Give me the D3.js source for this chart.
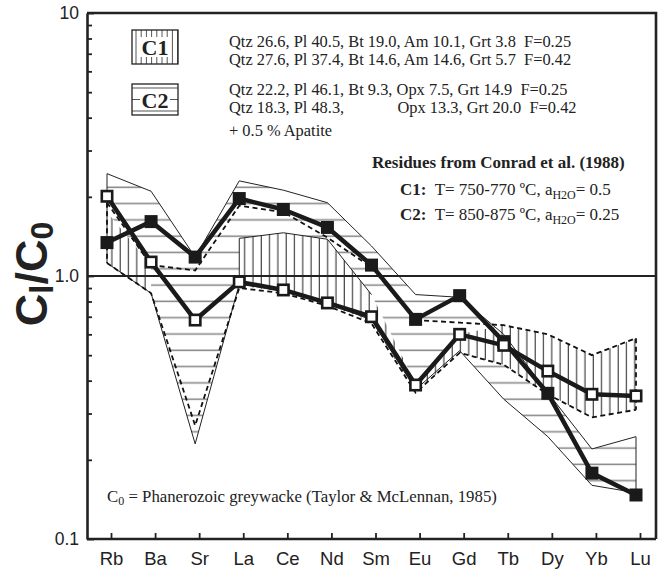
<!DOCTYPE html>
<html lang="en">
<head>
<meta charset="UTF-8">
<title>Cl/C0 residues</title>
<script src="https://d3js.org/d3.v7.min.js"></script>
<style>
  body { margin: 0; background: #fff; }
  .serif { font-family: "Liberation Serif", "Times New Roman", serif; fill: #222; }
  .axis text { font-family: "Liberation Sans", Arial, sans-serif; fill: #222; }
</style>
</head>
<body>
<script>
// elements on the x axis
const elements = ["Rb", "Ba", "Sr", "La", "Ce", "Nd", "Sm", "Eu", "Gd", "Tb", "Dy", "Yb", "Lu"];

// bold lines with markers
const meltFilled = [1.34, 1.61, 1.18, 1.97, 1.79, 1.53, 1.10, 0.684, 0.842, 0.563, 0.358, 0.178, 0.147];
const meltOpen = [2.01, 1.13, 0.68, 0.95, 0.885, 0.79, 0.70, 0.385, 0.60, 0.545, 0.435, 0.355, 0.35];

// C2 field (horizontal hatch)
const c2Upper = [2.45, 2.1, 1.18, 2.3, 2.12, 1.9, 1.3, 0.85, 0.83, 0.6, 0.36, 0.22, 0.245];
const c2Lower = [1.12, 0.86, 0.23, 0.93, 0.88, 0.79, 0.68, 0.37, 0.52, 0.34, 0.245, 0.16, 0.15];

// C1 field (vertical hatch), no field at Sr
const c1Upper = [1.75, 1.1, null, 1.39, 1.46, 1.38, 0.85, 0.39, 0.6, 0.65, 0.6, 0.5, 0.58];
const c1Lower = [1.12, 0.86, null, 0.92, 0.87, 0.78, 0.67, 0.36, 0.51, 0.46, 0.355, 0.29, 0.31];

// dashed curves
const dashUpper = [1.9, 1.1, 1.05, 1.85, 1.75, 1.4, 1.08, 0.68, 0.665, 0.65, 0.6, 0.5, 0.58];
const dashLower = [1.12, 0.86, 0.27, 0.9, 0.86, 0.77, 0.66, 0.36, 0.51, 0.46, 0.355, 0.29, 0.31];

const yMajor = [0.1, 1, 10];

const W = 661, H = 574;
const plot = { left: 87, right: 656, top: 13, bottom: 539 };

const svg = d3.select("body").append("svg")
    .attr("width", W)
    .attr("height", H);

const x = d3.scalePoint().domain(elements).range([107, 636]);
const y = d3.scaleLog().domain([0.1, 10]).range([plot.bottom, plot.top]);

const defs = svg.append("defs");
defs.append("pattern")
    .attr("id", "hatchH")
    .attr("patternUnits", "userSpaceOnUse")
    .attr("width", 10).attr("height", 16.3)
    .append("line")
    .attr("x1", 0).attr("x2", 10).attr("y1", 8).attr("y2", 8)
    .attr("stroke", "#8a8a8a").attr("stroke-width", 1.6);
defs.append("pattern")
    .attr("id", "hatchV")
    .attr("patternUnits", "userSpaceOnUse")
    .attr("width", 8.3).attr("height", 10)
    .append("line")
    .attr("x1", 4).attr("x2", 4).attr("y1", 0).attr("y2", 10)
    .attr("stroke", "#444").attr("stroke-width", 1.2);

function rows(upper, lower) {
    return elements.map((e, i) => ({ e, hi: upper[i], lo: lower[i] }));
}

const area = d3.area()
    .defined(d => d.hi != null && d.lo != null)
    .x(d => x(d.e))
    .y0(d => y(d.lo))
    .y1(d => y(d.hi));

const line = d3.line()
    .defined(d => d.v != null)
    .x(d => x(d.e))
    .y(d => y(d.v));

const pts = arr => elements.map((e, i) => ({ e, v: arr[i] }));

// C2 field
svg.append("path")
    .datum(rows(c2Upper, c2Lower))
    .attr("d", area)
    .attr("fill", "url(#hatchH)");

// C1 field on white
const c1 = svg.append("g");
c1.append("path").datum(rows(c1Upper, c1Lower)).attr("d", area).attr("fill", "#fff");
c1.append("path").datum(rows(c1Upper, c1Lower)).attr("d", area).attr("fill", "url(#hatchV)");

// thin outlines
const thin = svg.append("g").attr("fill", "none").attr("stroke", "#222").attr("stroke-width", 1);
thin.append("path").datum(pts(c2Upper)).attr("d", line);
thin.append("path").datum(pts(c2Lower)).attr("d", line);
thin.append("path").datum(pts(c1Upper.map((v, i) => (i >= 3 && i <= 6) ? v : null))).attr("d", line);
thin.append("line")
    .attr("x1", x("Rb")).attr("x2", x("Rb"))
    .attr("y1", y(c2Upper[0])).attr("y2", y(c2Lower[0]));
thin.append("line")
    .attr("x1", x("Lu")).attr("x2", x("Lu"))
    .attr("y1", y(c2Upper[12])).attr("y2", y(c2Lower[12]));
thin.append("line")
    .attr("x1", x("La")).attr("x2", x("La"))
    .attr("y1", y(c1Upper[3])).attr("y2", y(c1Lower[3]));

const dashed = svg.append("g").attr("fill", "none").attr("stroke", "#111")
    .attr("stroke-width", 1.8).attr("stroke-dasharray", "5,3.5");
dashed.append("path").datum(pts(dashUpper)).attr("d", line);
dashed.append("path").datum(pts(dashLower)).attr("d", line);
dashed.append("line")
    .attr("x1", x("Rb")).attr("x2", x("Rb"))
    .attr("y1", y(dashUpper[0])).attr("y2", y(dashLower[0]));
dashed.append("line")
    .attr("x1", x("Lu")).attr("x2", x("Lu"))
    .attr("y1", y(dashUpper[12])).attr("y2", y(dashLower[12]));

// reference line at 1.0
svg.append("line")
    .attr("x1", plot.left).attr("x2", plot.right)
    .attr("y1", y(1)).attr("y2", y(1))
    .attr("stroke", "#222").attr("stroke-width", 2.2);

// bold melt lines
const bold = svg.append("g").attr("fill", "none").attr("stroke", "#1a1a1a").attr("stroke-width", 4.5)
    .attr("stroke-linejoin", "round");
bold.append("path").datum(pts(meltOpen)).attr("d", line);
bold.append("path").datum(pts(meltFilled)).attr("d", line);

const ms = 13;
svg.append("g").selectAll("rect")
    .data(pts(meltFilled))
    .join("rect")
    .attr("x", d => x(d.e) - ms / 2)
    .attr("y", d => y(d.v) - ms / 2)
    .attr("width", ms).attr("height", ms)
    .attr("fill", "#1a1a1a");
svg.append("g").selectAll("rect")
    .data(pts(meltOpen))
    .join("rect")
    .attr("x", d => x(d.e) - ms / 2 + 1.3)
    .attr("y", d => y(d.v) - ms / 2 + 1.3)
    .attr("width", ms - 2.6).attr("height", ms - 2.6)
    .attr("fill", "#fff").attr("stroke", "#1a1a1a").attr("stroke-width", 2.6);

// frame
svg.append("path")
    .attr("d", `M${plot.left},${plot.top}H${plot.right}V${plot.bottom}`)
    .attr("fill", "none").attr("stroke", "#222").attr("stroke-width", 2.6);

// axes
const xAxis = svg.append("g")
    .attr("class", "axis")
    .attr("transform", `translate(4,${plot.bottom})`)
    .call(d3.axisBottom(x).tickSize(-6).tickSizeOuter(0).tickPadding(13));
xAxis.select(".domain").attr("transform", "translate(-4,0)")
    .attr("d", `M${plot.left},0H${plot.right}`).attr("stroke-width", 2.6).attr("stroke", "#222");
xAxis.selectAll(".tick line").attr("stroke-width", 1.8).attr("stroke", "#222");
xAxis.selectAll("text").attr("font-size", 18.5);

const minors = [];
[0.1, 1].forEach(d => { for (let k = 2; k <= 9; k++) minors.push(d * k); });
const yMinor = svg.append("g").attr("class", "axis")
    .attr("transform", `translate(${plot.left},0)`)
    .call(d3.axisLeft(y).tickValues(minors).tickSize(-5).tickFormat(""));
yMinor.selectAll(".tick line").attr("stroke-width", 1.8).attr("stroke", "#222");
yMinor.select(".domain").remove();

const yAxis = svg.append("g").attr("class", "axis")
    .attr("transform", `translate(${plot.left},0)`)
    .call(d3.axisLeft(y).tickValues(yMajor).tickSize(-7).tickSizeOuter(0).tickPadding(8)
        .tickFormat(d => d === 10 ? "10" : d3.format(".1f")(d)));
yAxis.select(".domain").attr("stroke-width", 2.6).attr("stroke", "#222");
yAxis.selectAll(".tick line").attr("stroke-width", 1.8).attr("stroke", "#222");
yAxis.selectAll("text").attr("font-size", 17.5);

// y title
const yt = svg.append("text")
    .attr("transform", `translate(47,${y(1) - 2}) rotate(-90)`)
    .attr("text-anchor", "middle")
    .attr("font-family", "Liberation Sans, Arial, sans-serif")
    .attr("font-weight", "bold")
    .attr("font-size", 45)
    .attr("fill", "#222");
yt.append("tspan").text("C");
yt.append("tspan").text("l").attr("font-size", 33).attr("dy", 6);
yt.append("tspan").text("/C").attr("dy", -6);
yt.append("tspan").text("0").attr("font-size", 32).attr("dy", 6);

// legend boxes
function legendBox(gx, gy, w, h, label, vertical) {
    const g = svg.append("g").attr("transform", `translate(${gx},${gy})`);
    g.append("rect").attr("width", w).attr("height", h).attr("fill", "#fff");
    if (vertical) {
        for (let i = 4; i < w; i += 5.2) {
            g.append("line").attr("x1", i).attr("x2", i).attr("y1", 0).attr("y2", h)
                .attr("stroke", "#555").attr("stroke-width", 1);
        }
    } else {
        [4, h / 2, h - 4].forEach(v => g.append("line").attr("x1", 0).attr("x2", w)
            .attr("y1", v).attr("y2", v).attr("stroke", "#555").attr("stroke-width", 1.2));
    }
    g.append("rect").attr("x", 8).attr("y", h / 2 - 10).attr("width", w - 16).attr("height", 20).attr("fill", "#fff");
    g.append("rect").attr("width", w).attr("height", h).attr("fill", "none")
        .attr("stroke", "#222").attr("stroke-width", 1.3);
    g.append("text").attr("class", "serif").attr("x", w / 2).attr("y", h / 2 + 8)
        .attr("text-anchor", "middle").attr("font-weight", "bold").attr("font-size", 22).text(label);
}
legendBox(132, 30, 46, 34, "C1", true);
legendBox(132, 84, 46, 31, "C2", false);

const legendLines = [
    ["Qtz 26.6, Pl 40.5, Bt 19.0, Am 10.1, Grt 3.8  F=0.25", 47],
    ["Qtz 27.6, Pl 37.4, Bt 14.6, Am 14.6, Grt 5.7  F=0.42", 65],
    ["Qtz 22.2, Pl 46.1, Bt 9.3, Opx 7.5, Grt 14.9  F=0.25", 95],
    ["Qtz 18.3, Pl 48.3,             Opx 13.3, Grt 20.0  F=0.42", 113],
    ["+ 0.5 % Apatite", 136]
];
svg.append("g").selectAll("text")
    .data(legendLines)
    .join("text")
    .attr("class", "serif")
    .attr("x", 229).attr("y", d => d[1])
    .attr("font-size", 16.4)
    .style("white-space", "pre")
    .text(d => d[0]);

svg.append("text").attr("class", "serif")
    .attr("x", 372).attr("y", 168)
    .attr("font-weight", "bold").attr("font-size", 17)
    .text("Residues from Conrad et al. (1988)");

function condLine(yy, label, temp, aw) {
    const t = svg.append("text").attr("class", "serif").attr("x", 400).attr("y", yy).attr("font-size", 17);
    t.append("tspan").attr("font-weight", "bold").text(label);
    t.append("tspan").text(`  T= ${temp} ºC, a`).style("white-space", "pre");
    t.append("tspan").attr("font-size", 12).attr("dy", 4).text("H2O");
    t.append("tspan").attr("dy", -4).text("= " + aw);
}
condLine(195, "C1:", "750-770", "0.5");
condLine(220, "C2:", "850-875", "0.25");

const c0 = svg.append("text").attr("class", "serif")
    .attr("x", 107).attr("y", 502).attr("font-size", 16.8);
c0.append("tspan").text("C");
c0.append("tspan").attr("font-size", 12).attr("dy", 3).text("0");
c0.append("tspan").attr("dy", -3).text(" = Phanerozoic greywacke (Taylor & McLennan, 1985)");
</script>
</body>
</html>
